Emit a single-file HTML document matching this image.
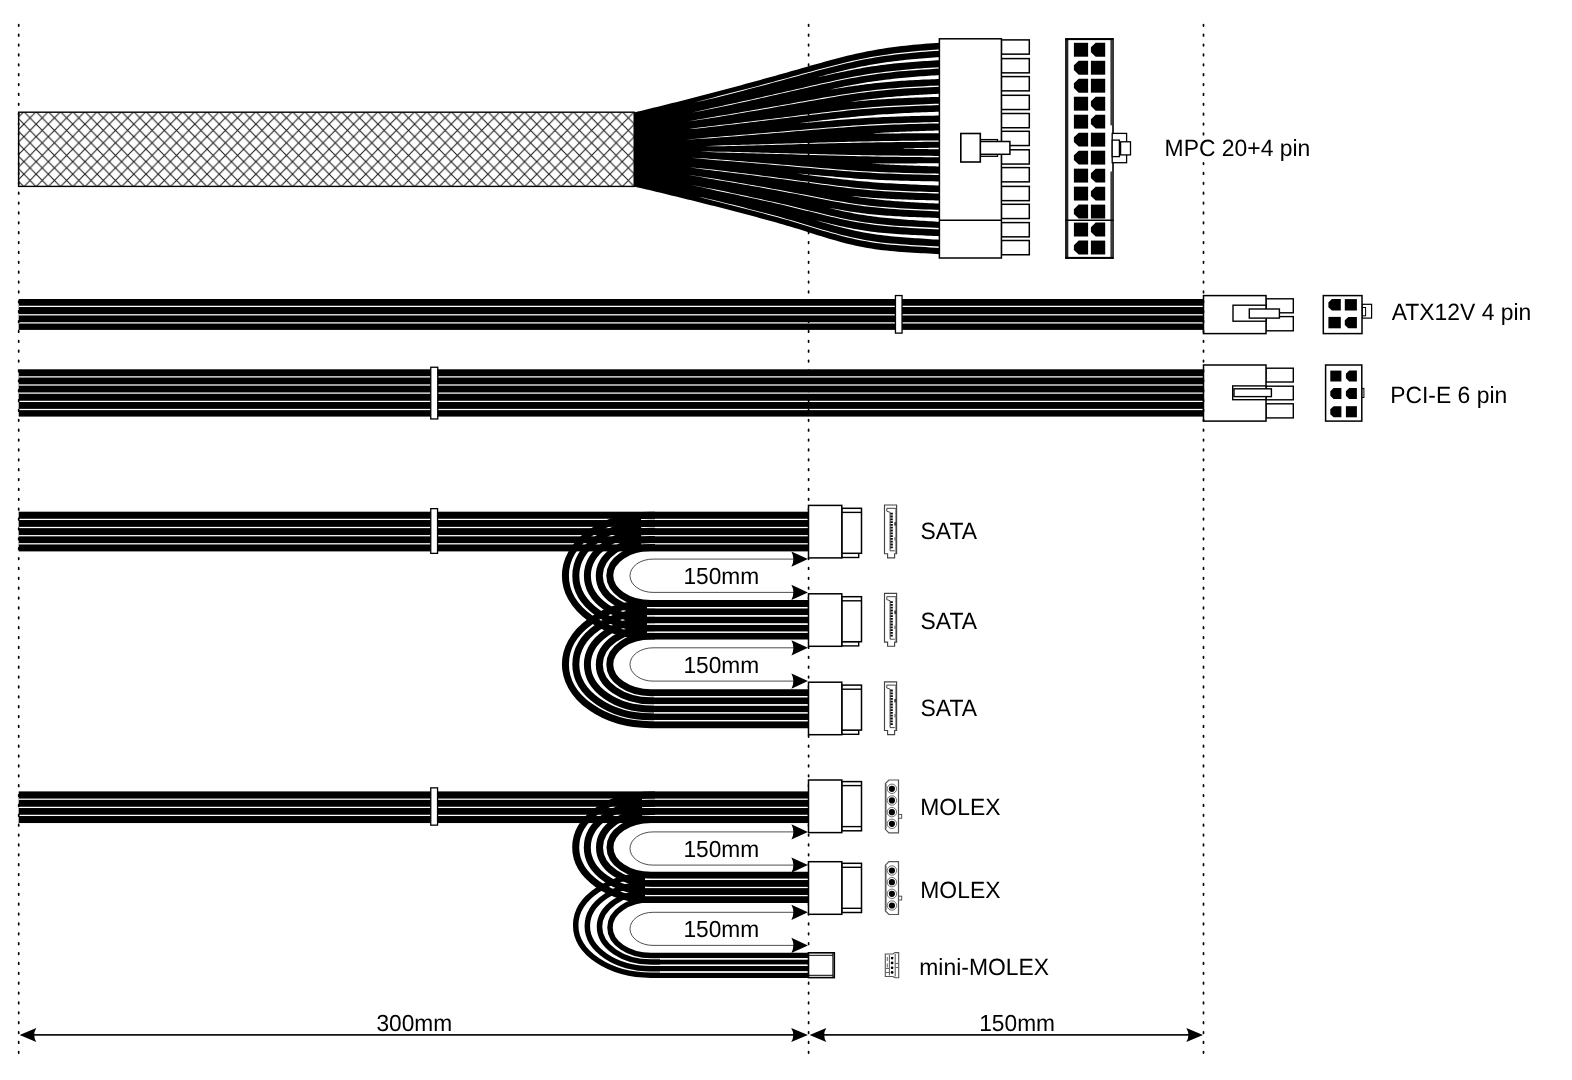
<!DOCTYPE html>
<html><head><meta charset="utf-8"><title>PSU cable diagram</title>
<style>html,body{margin:0;padding:0;background:#fff;}body{width:1572px;height:1080px;overflow:hidden;}svg{display:block;will-change:transform;}text{font-family:"Liberation Sans",sans-serif;fill:#000;text-rendering:geometricPrecision;}</style></head><body>
<svg width="1572" height="1080" viewBox="0 0 1572 1080">
<rect width="1572" height="1080" fill="#fff"/>
<g id="mpc-cable"><defs><pattern id="hatch" patternUnits="userSpaceOnUse" width="12.21" height="12.5" patternTransform="translate(23.9,111.65)"><path d="M0,0 L12.21,12.5 M12.21,0 L0,12.5" stroke="#1a1a1a" stroke-width="1.05" fill="none"/></pattern></defs><rect x="18.6" y="112.2" width="615.6" height="74.2" fill="#fff"/><rect x="18.6" y="112.2" width="615.6" height="74.2" fill="url(#hatch)" stroke="#000" stroke-width="1.4"/><path d="M634,112.5 L637.83,111.57 L641.65,110.65 L645.48,109.71 L649.3,108.78 L653.12,107.84 L656.95,106.9 L660.77,105.95 L664.6,105 L668.42,104.05 L672.25,103.09 L676.08,102.13 L679.9,101.17 L683.73,100.2 L687.55,99.23 L691.38,98.25 L695.2,97.27 L699.02,96.29 L702.85,95.3 L706.67,94.31 L710.5,93.31 L714.33,92.31 L718.15,91.3 L721.98,90.29 L725.8,89.27 L729.62,88.25 L733.45,87.23 L737.27,86.2 L741.1,85.16 L744.92,84.12 L748.75,83.08 L752.58,82.03 L756.4,80.98 L760.23,79.92 L764.05,78.86 L767.88,77.79 L771.7,76.72 L775.52,75.64 L779.35,74.56 L783.17,73.48 L787,72.4 L790.83,71.31 L794.65,70.22 L798.48,69.13 L802.3,68.04 L806.12,66.95 L809.95,65.87 L813.77,64.79 L817.6,63.71 L821.42,62.64 L825.25,61.58 L829.08,60.54 L832.9,59.5 L836.73,58.49 L840.55,57.5 L844.38,56.53 L848.2,55.58 L852.02,54.67 L855.85,53.79 L859.67,52.94 L863.5,52.13 L867.33,51.36 L871.15,50.63 L874.98,49.93 L878.8,49.27 L882.62,48.65 L886.45,48.07 L890.27,47.52 L894.1,47.01 L897.92,46.52 L901.75,46.06 L905.58,45.64 L909.4,45.23 L913.23,44.85 L917.05,44.49 L920.88,44.15 L924.7,43.83 L928.52,43.53 L932.35,43.24 L936.17,42.96 L940,42.7 L940,254.3 L936.17,254.06 L932.35,253.82 L928.52,253.59 L924.7,253.37 L920.88,253.15 L917.05,252.93 L913.23,252.71 L909.4,252.47 L905.58,252.23 L901.75,251.96 L897.92,251.67 L894.1,251.36 L890.27,251.01 L886.45,250.62 L882.62,250.19 L878.8,249.71 L874.98,249.18 L871.15,248.6 L867.33,247.96 L863.5,247.26 L859.67,246.51 L855.85,245.7 L852.02,244.83 L848.2,243.91 L844.38,242.94 L840.55,241.92 L836.73,240.87 L832.9,239.77 L829.08,238.65 L825.25,237.49 L821.42,236.32 L817.6,235.13 L813.77,233.93 L809.95,232.73 L806.12,231.52 L802.3,230.32 L798.48,229.12 L794.65,227.94 L790.83,226.77 L787,225.63 L783.17,224.5 L779.35,223.39 L775.52,222.31 L771.7,221.26 L767.88,220.22 L764.05,219.18 L760.23,218.15 L756.4,217.12 L752.58,216.1 L748.75,215.08 L744.92,214.06 L741.1,213.05 L737.27,212.05 L733.45,211.05 L729.62,210.05 L725.8,209.06 L721.98,208.07 L718.15,207.09 L714.33,206.11 L710.5,205.14 L706.67,204.17 L702.85,203.21 L699.02,202.25 L695.2,201.29 L691.38,200.34 L687.55,199.39 L683.73,198.45 L679.9,197.51 L676.08,196.57 L672.25,195.64 L668.42,194.71 L664.6,193.78 L660.77,192.86 L656.95,191.94 L653.12,191.03 L649.3,190.11 L645.48,189.21 L641.65,188.3 L637.83,187.4 L634,186.5Z" fill="#000"/><path d="M694,102.68 L698.92,101.37 L703.84,100.05 L708.76,98.73 L713.68,97.4 L718.6,96.11 L723.52,94.86 L728.44,93.6 L733.36,92.33 L738.28,91.06 L743.2,89.78 L748.12,88.49 L753.04,87.19 L757.96,85.88 L762.88,84.57 L767.8,83.25 L772.72,81.93 L777.64,80.59 L782.56,79.25 L787.48,77.91 L792.4,76.56 L797.32,75.21 L802.24,73.86 L807.16,72.51 L812.08,71.17 L817,69.83 L821.92,68.51 L826.84,67.2 L831.76,65.91 L836.68,64.65 L841.6,63.42 L846.52,62.23 L851.44,61.09 L856.36,59.99 L861.28,58.95 L866.2,57.97 L871.12,57.05 L876.04,56.19 L880.96,55.39 L885.88,54.64 L890.8,53.96 L895.72,53.32 L900.64,52.73 L905.56,52.19 L910.48,51.69 L915.4,51.22 L920.32,50.78 L925.24,50.38 L930.16,50 L935.08,49.64 L940,49.3 L940,50.7 L935.08,51.02 L930.16,51.35 L925.24,51.71 L920.32,52.1 L915.4,52.51 L910.48,52.96 L905.56,53.45 L900.64,53.97 L895.72,54.54 L890.8,55.16 L885.88,55.83 L880.96,56.55 L876.04,57.34 L871.12,58.18 L866.2,59.09 L861.28,60.05 L856.36,61.08 L851.44,62.16 L846.52,63.29 L841.6,64.47 L836.68,65.69 L831.76,66.93 L826.84,68.21 L821.92,69.51 L817,70.82 L812.08,72.15 L807.16,73.48 L802.24,74.82 L797.32,76.16 L792.4,77.5 L787.48,78.84 L782.56,80.18 L777.64,81.51 L772.72,82.83 L767.8,84.15 L762.88,85.47 L757.96,86.77 L753.04,88.07 L748.12,89.36 L743.2,90.65 L738.28,91.93 L733.36,93.2 L728.44,94.46 L723.52,95.72 L718.6,96.96 L713.68,98.16 L708.76,99.3 L703.84,100.43 L698.92,101.56 L694,102.68Z" fill="#fff"/><path d="M692,112.58 L696.96,111.46 L701.92,110.33 L706.88,109.19 L711.84,108.05 L716.8,106.96 L721.76,105.9 L726.72,104.84 L731.68,103.77 L736.64,102.69 L741.6,101.61 L746.56,100.51 L751.52,99.42 L756.48,98.31 L761.44,97.2 L766.4,96.09 L771.36,94.96 L776.32,93.83 L781.28,92.7 L786.24,91.56 L791.2,90.42 L796.16,89.28 L801.12,88.13 L806.08,86.99 L811.04,85.85 L816,84.71 L820.96,83.59 L825.92,82.48 L830.88,81.38 L835.84,80.31 L840.8,79.26 L845.76,78.24 L850.72,77.27 L855.68,76.33 L860.64,75.44 L865.6,74.6 L870.56,73.82 L875.52,73.08 L880.48,72.4 L885.44,71.76 L890.4,71.17 L895.36,70.63 L900.32,70.13 L905.28,69.67 L910.24,69.24 L915.2,68.84 L920.16,68.46 L925.12,68.12 L930.08,67.79 L935.04,67.49 L940,67.2 L940,68.6 L935.04,68.87 L930.08,69.15 L925.12,69.45 L920.16,69.78 L915.2,70.13 L910.24,70.51 L905.28,70.92 L900.32,71.37 L895.36,71.85 L890.4,72.38 L885.44,72.95 L880.48,73.56 L875.52,74.23 L870.56,74.95 L865.6,75.72 L860.64,76.55 L855.68,77.42 L850.72,78.34 L845.76,79.31 L840.8,80.31 L835.84,81.34 L830.88,82.4 L825.92,83.49 L820.96,84.59 L816,85.7 L811.04,86.83 L806.08,87.96 L801.12,89.09 L796.16,90.22 L791.2,91.36 L786.24,92.49 L781.28,93.62 L776.32,94.75 L771.36,95.87 L766.4,96.99 L761.44,98.1 L756.48,99.2 L751.52,100.3 L746.56,101.39 L741.6,102.48 L736.64,103.56 L731.68,104.63 L726.72,105.7 L721.76,106.76 L716.8,107.82 L711.84,108.82 L706.88,109.77 L701.92,110.71 L696.96,111.65 L692,112.58Z" fill="#fff"/><path d="M688,121.42 L693.04,120.52 L698.08,119.61 L703.12,118.69 L708.16,117.78 L713.2,116.91 L718.24,116.08 L723.28,115.25 L728.32,114.41 L733.36,113.56 L738.4,112.71 L743.44,111.85 L748.48,110.99 L753.52,110.12 L758.56,109.24 L763.6,108.37 L768.64,107.48 L773.68,106.59 L778.72,105.7 L783.76,104.8 L788.8,103.9 L793.84,103 L798.88,102.1 L803.92,101.19 L808.96,100.29 L814,99.39 L819.04,98.5 L824.08,97.62 L829.12,96.75 L834.16,95.89 L839.2,95.06 L844.24,94.25 L849.28,93.47 L854.32,92.72 L859.36,92 L864.4,91.33 L869.44,90.7 L874.48,90.11 L879.52,89.56 L884.56,89.05 L889.6,88.58 L894.64,88.14 L899.68,87.74 L904.72,87.37 L909.76,87.02 L914.8,86.71 L919.84,86.41 L924.88,86.13 L929.92,85.87 L934.96,85.63 L940,85.4 L940,86.8 L934.96,87.01 L929.92,87.23 L924.88,87.47 L919.84,87.72 L914.8,88 L909.76,88.3 L904.72,88.62 L899.68,88.98 L894.64,89.36 L889.6,89.78 L884.56,90.23 L879.52,90.73 L874.48,91.26 L869.44,91.83 L864.4,92.45 L859.36,93.11 L854.32,93.81 L849.28,94.54 L844.24,95.31 L839.2,96.11 L834.16,96.93 L829.12,97.77 L824.08,98.63 L819.04,99.5 L814,100.38 L808.96,101.27 L803.92,102.16 L798.88,103.05 L793.84,103.95 L788.8,104.84 L783.76,105.73 L778.72,106.62 L773.68,107.51 L768.64,108.39 L763.6,109.27 L758.56,110.14 L753.52,111.01 L748.48,111.87 L743.44,112.73 L738.4,113.58 L733.36,114.43 L728.32,115.27 L723.28,116.11 L718.24,116.94 L713.2,117.77 L708.16,118.56 L703.12,119.28 L698.08,120 L693.04,120.71 L688,121.42Z" fill="#fff"/><path d="M684,129.58 L689.12,128.91 L694.24,128.23 L699.36,127.56 L704.48,126.88 L709.6,126.26 L714.72,125.67 L719.84,125.08 L724.96,124.48 L730.08,123.88 L735.2,123.28 L740.32,122.67 L745.44,122.06 L750.56,121.44 L755.68,120.82 L760.8,120.2 L765.92,119.57 L771.04,118.94 L776.16,118.3 L781.28,117.67 L786.4,117.02 L791.52,116.38 L796.64,115.74 L801.76,115.09 L806.88,114.45 L812,113.81 L817.12,113.17 L822.24,112.54 L827.36,111.91 L832.48,111.3 L837.6,110.7 L842.72,110.11 L847.84,109.55 L852.96,109.01 L858.08,108.49 L863.2,108 L868.32,107.54 L873.44,107.12 L878.56,106.72 L883.68,106.35 L888.8,106 L893.92,105.69 L899.04,105.4 L904.16,105.13 L909.28,104.88 L914.4,104.65 L919.52,104.43 L924.64,104.23 L929.76,104.04 L934.88,103.87 L940,103.7 L940,105.1 L934.88,105.24 L929.76,105.4 L924.64,105.57 L919.52,105.75 L914.4,105.94 L909.28,106.15 L904.16,106.38 L899.04,106.63 L893.92,106.91 L888.8,107.21 L883.68,107.53 L878.56,107.88 L873.44,108.27 L868.32,108.68 L863.2,109.12 L858.08,109.6 L852.96,110.1 L847.84,110.62 L842.72,111.18 L837.6,111.75 L832.48,112.33 L827.36,112.94 L822.24,113.55 L817.12,114.17 L812,114.8 L806.88,115.43 L801.76,116.06 L796.64,116.69 L791.52,117.33 L786.4,117.96 L781.28,118.59 L776.16,119.22 L771.04,119.85 L765.92,120.48 L760.8,121.1 L755.68,121.71 L750.56,122.33 L745.44,122.94 L740.32,123.55 L735.2,124.15 L730.08,124.75 L724.96,125.35 L719.84,125.94 L714.72,126.53 L709.6,127.12 L704.48,127.67 L699.36,128.15 L694.24,128.63 L689.12,129.11 L684,129.58Z" fill="#fff"/><path d="M686,139.66 L691.08,139.18 L696.16,138.69 L701.24,138.2 L706.32,137.71 L711.4,137.28 L716.48,136.88 L721.56,136.48 L726.64,136.08 L731.72,135.67 L736.8,135.26 L741.88,134.85 L746.96,134.44 L752.04,134.02 L757.12,133.6 L762.2,133.18 L767.28,132.75 L772.36,132.33 L777.44,131.9 L782.52,131.46 L787.6,131.03 L792.68,130.59 L797.76,130.16 L802.84,129.72 L807.92,129.29 L813,128.85 L818.08,128.42 L823.16,127.99 L828.24,127.57 L833.32,127.16 L838.4,126.75 L843.48,126.36 L848.56,125.98 L853.64,125.61 L858.72,125.26 L863.8,124.93 L868.88,124.62 L873.96,124.33 L879.04,124.06 L884.12,123.81 L889.2,123.58 L894.28,123.37 L899.36,123.17 L904.44,122.98 L909.52,122.81 L914.6,122.65 L919.68,122.51 L924.76,122.37 L929.84,122.24 L934.92,122.12 L940,122 L940,123.4 L934.92,123.49 L929.84,123.59 L924.76,123.7 L919.68,123.82 L914.6,123.95 L909.52,124.09 L904.44,124.24 L899.36,124.41 L894.28,124.59 L889.2,124.78 L884.12,125 L879.04,125.23 L873.96,125.48 L868.88,125.76 L863.8,126.05 L858.72,126.37 L853.64,126.7 L848.56,127.05 L843.48,127.42 L838.4,127.8 L833.32,128.19 L828.24,128.59 L823.16,129 L818.08,129.42 L813,129.84 L807.92,130.26 L802.84,130.69 L797.76,131.12 L792.68,131.54 L787.6,131.97 L782.52,132.39 L777.44,132.82 L772.36,133.24 L767.28,133.66 L762.2,134.08 L757.12,134.49 L752.04,134.91 L746.96,135.32 L741.88,135.73 L736.8,136.14 L731.72,136.54 L726.64,136.94 L721.56,137.34 L716.48,137.74 L711.4,138.14 L706.32,138.5 L701.24,138.79 L696.16,139.09 L691.08,139.38 L686,139.66Z" fill="#fff"/><path d="M700,146.37 L704.8,146.16 L709.6,145.94 L714.4,145.72 L719.2,145.5 L724,145.32 L728.8,145.2 L733.6,145.07 L738.4,144.94 L743.2,144.81 L748,144.68 L752.8,144.54 L757.6,144.41 L762.4,144.28 L767.2,144.14 L772,144 L776.8,143.87 L781.6,143.73 L786.4,143.59 L791.2,143.45 L796,143.31 L800.8,143.17 L805.6,143.03 L810.4,142.89 L815.2,142.76 L820,142.62 L824.8,142.48 L829.6,142.34 L834.4,142.21 L839.2,142.08 L844,141.95 L848.8,141.83 L853.6,141.71 L858.4,141.6 L863.2,141.49 L868,141.38 L872.8,141.29 L877.6,141.19 L882.4,141.11 L887.2,141.03 L892,140.95 L896.8,140.88 L901.6,140.82 L906.4,140.75 L911.2,140.69 L916,140.64 L920.8,140.59 L925.6,140.54 L930.4,140.49 L935.2,140.44 L940,140.4 L940,141.8 L935.2,141.82 L930.4,141.85 L925.6,141.87 L920.8,141.9 L916,141.93 L911.2,141.97 L906.4,142.01 L901.6,142.05 L896.8,142.1 L892,142.15 L887.2,142.21 L882.4,142.28 L877.6,142.35 L872.8,142.42 L868,142.5 L863.2,142.59 L858.4,142.68 L853.6,142.78 L848.8,142.89 L844,143 L839.2,143.11 L834.4,143.23 L829.6,143.35 L824.8,143.48 L820,143.6 L815.2,143.73 L810.4,143.86 L805.6,143.99 L800.8,144.12 L796,144.25 L791.2,144.38 L786.4,144.51 L781.6,144.64 L776.8,144.77 L772,144.9 L767.2,145.03 L762.4,145.16 L757.6,145.29 L752.8,145.42 L748,145.55 L743.2,145.68 L738.4,145.8 L733.6,145.93 L728.8,146.05 L724,146.18 L719.2,146.25 L714.4,146.28 L709.6,146.31 L704.8,146.34 L700,146.37Z" fill="#fff"/><path d="M700,151.56 L704.8,151.58 L709.6,151.61 L714.4,151.63 L719.2,151.66 L724,151.72 L728.8,151.84 L733.6,151.96 L738.4,152.08 L743.2,152.2 L748,152.33 L752.8,152.45 L757.6,152.57 L762.4,152.69 L767.2,152.82 L772,152.94 L776.8,153.07 L781.6,153.19 L786.4,153.32 L791.2,153.44 L796,153.57 L800.8,153.69 L805.6,153.82 L810.4,153.95 L815.2,154.07 L820,154.19 L824.8,154.32 L829.6,154.44 L834.4,154.55 L839.2,154.67 L844,154.78 L848.8,154.88 L853.6,154.98 L858.4,155.08 L863.2,155.17 L868,155.25 L872.8,155.33 L877.6,155.4 L882.4,155.46 L887.2,155.52 L892,155.58 L896.8,155.62 L901.6,155.67 L906.4,155.71 L911.2,155.74 L916,155.78 L920.8,155.81 L925.6,155.83 L930.4,155.86 L935.2,155.88 L940,155.9 L940,157.3 L935.2,157.26 L930.4,157.21 L925.6,157.17 L920.8,157.12 L916,157.07 L911.2,157.02 L906.4,156.97 L901.6,156.91 L896.8,156.84 L892,156.78 L887.2,156.71 L882.4,156.63 L877.6,156.55 L872.8,156.46 L868,156.37 L863.2,156.27 L858.4,156.17 L853.6,156.06 L848.8,155.94 L844,155.82 L839.2,155.7 L834.4,155.58 L829.6,155.45 L824.8,155.31 L820,155.18 L815.2,155.05 L810.4,154.91 L805.6,154.78 L800.8,154.64 L796,154.51 L791.2,154.37 L786.4,154.24 L781.6,154.1 L776.8,153.97 L772,153.84 L767.2,153.71 L762.4,153.58 L757.6,153.45 L752.8,153.33 L748,153.2 L743.2,153.07 L738.4,152.95 L733.6,152.82 L728.8,152.7 L724,152.58 L719.2,152.4 L714.4,152.19 L709.6,151.98 L704.8,151.77 L700,151.56Z" fill="#fff"/><path d="M686,157.36 L691.08,157.65 L696.16,157.94 L701.24,158.23 L706.32,158.53 L711.4,158.89 L716.48,159.29 L721.56,159.69 L726.64,160.09 L731.72,160.49 L736.8,160.9 L741.88,161.31 L746.96,161.72 L752.04,162.14 L757.12,162.55 L762.2,162.97 L767.28,163.39 L772.36,163.81 L777.44,164.24 L782.52,164.67 L787.6,165.1 L792.68,165.54 L797.76,165.98 L802.84,166.43 L807.92,166.87 L813,167.31 L818.08,167.75 L823.16,168.18 L828.24,168.61 L833.32,169.02 L838.4,169.43 L843.48,169.82 L848.56,170.19 L853.64,170.55 L858.72,170.88 L863.8,171.2 L868.88,171.49 L873.96,171.75 L879.04,172 L884.12,172.22 L889.2,172.42 L894.28,172.6 L899.36,172.77 L904.44,172.92 L909.52,173.06 L914.6,173.18 L919.68,173.3 L924.76,173.41 L929.84,173.51 L934.92,173.61 L940,173.7 L940,175.1 L934.92,174.99 L929.84,174.87 L924.76,174.74 L919.68,174.61 L914.6,174.48 L909.52,174.33 L904.44,174.18 L899.36,174.01 L894.28,173.82 L889.2,173.62 L884.12,173.4 L879.04,173.17 L873.96,172.9 L868.88,172.62 L863.8,172.32 L858.72,171.99 L853.64,171.64 L848.56,171.27 L843.48,170.88 L838.4,170.48 L833.32,170.06 L828.24,169.63 L823.16,169.19 L818.08,168.75 L813,168.3 L807.92,167.84 L802.84,167.39 L797.76,166.94 L792.68,166.49 L787.6,166.04 L782.52,165.6 L777.44,165.16 L772.36,164.73 L767.28,164.3 L762.2,163.87 L757.12,163.44 L752.04,163.02 L746.96,162.6 L741.88,162.19 L736.8,161.77 L731.72,161.36 L726.64,160.95 L721.56,160.55 L716.48,160.14 L711.4,159.74 L706.32,159.31 L701.24,158.82 L696.16,158.33 L691.08,157.84 L686,157.36Z" fill="#fff"/><path d="M684,166.65 L689.12,167.15 L694.24,167.65 L699.36,168.15 L704.48,168.66 L709.6,169.24 L714.72,169.85 L719.84,170.46 L724.96,171.08 L730.08,171.7 L735.2,172.33 L740.32,172.96 L745.44,173.59 L750.56,174.23 L755.68,174.87 L760.8,175.51 L765.92,176.16 L771.04,176.81 L776.16,177.47 L781.28,178.14 L786.4,178.81 L791.52,179.5 L796.64,180.19 L801.76,180.89 L806.88,181.58 L812,182.28 L817.12,182.98 L822.24,183.66 L827.36,184.34 L832.48,185 L837.6,185.64 L842.72,186.26 L847.84,186.85 L852.96,187.41 L858.08,187.93 L863.2,188.42 L868.32,188.87 L873.44,189.28 L878.56,189.65 L883.68,189.98 L888.8,190.28 L893.92,190.56 L899.04,190.8 L904.16,191.02 L909.28,191.22 L914.4,191.41 L919.52,191.58 L924.64,191.75 L929.76,191.9 L934.88,192.05 L940,192.2 L940,193.6 L934.88,193.43 L929.76,193.26 L924.64,193.08 L919.52,192.9 L914.4,192.71 L909.28,192.5 L904.16,192.28 L899.04,192.04 L893.92,191.78 L888.8,191.49 L883.68,191.17 L878.56,190.81 L873.44,190.43 L868.32,190 L863.2,189.54 L858.08,189.04 L852.96,188.5 L847.84,187.92 L842.72,187.32 L837.6,186.69 L832.48,186.04 L827.36,185.36 L822.24,184.67 L817.12,183.98 L812,183.27 L806.88,182.56 L801.76,181.85 L796.64,181.15 L791.52,180.44 L786.4,179.75 L781.28,179.06 L776.16,178.39 L771.04,177.73 L765.92,177.07 L760.8,176.41 L755.68,175.76 L750.56,175.12 L745.44,174.47 L740.32,173.83 L735.2,173.2 L730.08,172.57 L724.96,171.94 L719.84,171.32 L714.72,170.71 L709.6,170.09 L704.48,169.45 L699.36,168.75 L694.24,168.04 L689.12,167.35 L684,166.65Z" fill="#fff"/><path d="M688,174.73 L693.04,175.46 L698.08,176.19 L703.12,176.92 L708.16,177.65 L713.2,178.46 L718.24,179.3 L723.28,180.15 L728.32,181 L733.36,181.86 L738.4,182.73 L743.44,183.59 L748.48,184.47 L753.52,185.35 L758.56,186.23 L763.6,187.12 L768.64,188.01 L773.68,188.91 L778.72,189.83 L783.76,190.76 L788.8,191.71 L793.84,192.67 L798.88,193.64 L803.92,194.62 L808.96,195.6 L814,196.59 L819.04,197.56 L824.08,198.52 L829.12,199.47 L834.16,200.39 L839.2,201.27 L844.24,202.12 L849.28,202.93 L854.32,203.69 L859.36,204.4 L864.4,205.05 L869.44,205.65 L874.48,206.19 L879.52,206.68 L884.56,207.12 L889.6,207.51 L894.64,207.86 L899.68,208.17 L904.72,208.45 L909.76,208.71 L914.8,208.95 L919.84,209.17 L924.88,209.38 L929.92,209.59 L934.96,209.8 L940,210 L940,211.4 L934.96,211.17 L929.92,210.95 L924.88,210.72 L919.84,210.49 L914.8,210.24 L909.76,209.98 L904.72,209.71 L899.68,209.41 L894.64,209.08 L889.6,208.71 L884.56,208.3 L879.52,207.85 L874.48,207.34 L869.44,206.79 L864.4,206.17 L859.36,205.5 L854.32,204.78 L849.28,204.01 L844.24,203.19 L839.2,202.32 L834.16,201.42 L829.12,200.49 L824.08,199.53 L819.04,198.56 L814,197.57 L808.96,196.58 L803.92,195.59 L798.88,194.6 L793.84,193.61 L788.8,192.64 L783.76,191.69 L778.72,190.75 L773.68,189.82 L768.64,188.92 L763.6,188.02 L758.56,187.12 L753.52,186.23 L748.48,185.35 L743.44,184.47 L738.4,183.6 L733.36,182.73 L728.32,181.87 L723.28,181.01 L718.24,180.16 L713.2,179.31 L708.16,178.44 L703.12,177.5 L698.08,176.58 L693.04,175.65 L688,174.73Z" fill="#fff"/><path d="M692,185.15 L696.96,186.06 L701.92,186.97 L706.88,187.89 L711.84,188.81 L716.8,189.8 L721.76,190.83 L726.72,191.86 L731.68,192.91 L736.64,193.96 L741.6,195.01 L746.56,196.07 L751.52,197.14 L756.48,198.21 L761.44,199.29 L766.4,200.38 L771.36,201.47 L776.32,202.57 L781.28,203.7 L786.24,204.86 L791.2,206.04 L796.16,207.24 L801.12,208.45 L806.08,209.67 L811.04,210.89 L816,212.11 L820.96,213.32 L825.92,214.51 L830.88,215.67 L835.84,216.8 L840.8,217.89 L845.76,218.92 L850.72,219.89 L855.68,220.81 L860.64,221.65 L865.6,222.42 L870.56,223.12 L875.52,223.75 L880.48,224.31 L885.44,224.81 L890.4,225.26 L895.36,225.65 L900.32,226 L905.28,226.31 L910.24,226.6 L915.2,226.87 L920.16,227.12 L925.12,227.37 L930.08,227.61 L935.04,227.85 L940,228.1 L940,229.5 L935.04,229.23 L930.08,228.97 L925.12,228.7 L920.16,228.44 L915.2,228.16 L910.24,227.88 L905.28,227.57 L900.32,227.24 L895.36,226.87 L890.4,226.46 L885.44,226 L880.48,225.48 L875.52,224.9 L870.56,224.26 L865.6,223.54 L860.64,222.75 L855.68,221.9 L850.72,220.97 L845.76,219.98 L840.8,218.93 L835.84,217.84 L830.88,216.7 L825.92,215.52 L820.96,214.32 L816,213.1 L811.04,211.87 L806.08,210.64 L801.12,209.4 L796.16,208.18 L791.2,206.98 L786.24,205.79 L781.28,204.62 L776.32,203.48 L771.36,202.37 L766.4,201.28 L761.44,200.18 L756.48,199.1 L751.52,198.02 L746.56,196.95 L741.6,195.88 L736.64,194.82 L731.68,193.77 L726.72,192.73 L721.76,191.69 L716.8,190.65 L711.84,189.58 L706.88,188.47 L701.92,187.36 L696.96,186.25 L692,185.15Z" fill="#fff"/><path d="M694,195.56 L698.92,196.66 L703.84,197.77 L708.76,198.88 L713.68,199.99 L718.6,201.17 L723.52,202.4 L728.44,203.63 L733.36,204.87 L738.28,206.12 L743.2,207.37 L748.12,208.63 L753.04,209.9 L757.96,211.18 L762.88,212.46 L767.8,213.75 L772.72,215.05 L777.64,216.37 L782.56,217.74 L787.48,219.13 L792.4,220.56 L797.32,222.01 L802.24,223.48 L807.16,224.96 L812.08,226.44 L817,227.92 L821.92,229.39 L826.84,230.82 L831.76,232.23 L836.68,233.58 L841.6,234.88 L846.52,236.11 L851.44,237.26 L856.36,238.34 L861.28,239.33 L866.2,240.22 L871.12,241.03 L876.04,241.75 L880.96,242.39 L885.88,242.95 L890.8,243.44 L895.72,243.87 L900.64,244.25 L905.56,244.6 L910.48,244.91 L915.4,245.2 L920.32,245.48 L925.24,245.75 L930.16,246.02 L935.08,246.31 L940,246.6 L940,248 L935.08,247.68 L930.16,247.38 L925.24,247.09 L920.32,246.79 L915.4,246.49 L910.48,246.18 L905.56,245.85 L900.64,245.49 L895.72,245.09 L890.8,244.64 L885.88,244.13 L880.96,243.56 L876.04,242.9 L871.12,242.17 L866.2,241.34 L861.28,240.43 L856.36,239.43 L851.44,238.34 L846.52,237.17 L841.6,235.92 L836.68,234.61 L831.76,233.25 L826.84,231.83 L821.92,230.39 L817,228.91 L812.08,227.42 L807.16,225.93 L802.24,224.43 L797.32,222.96 L792.4,221.5 L787.48,220.06 L782.56,218.66 L777.64,217.29 L772.72,215.95 L767.8,214.65 L762.88,213.35 L757.96,212.07 L753.04,210.78 L748.12,209.51 L743.2,208.24 L738.28,206.98 L733.36,205.73 L728.44,204.49 L723.52,203.25 L718.6,202.02 L713.68,200.76 L708.76,199.45 L703.84,198.15 L698.92,196.85 L694,195.56Z" fill="#fff"/><path d="M817,77.41 L820.08,76.53 L823.15,75.69 L826.23,74.87 L829.3,74.07 L832.38,73.28 L835.45,72.5 L838.52,71.74 L841.6,70.99 L844.67,70.25 L847.75,69.54 L850.83,68.84 L853.9,68.16 L856.98,67.5 L860.05,66.86 L863.12,66.24 L866.2,65.65 L869.27,65.08 L872.35,64.53 L875.42,64 L878.5,63.5 L881.58,63.02 L884.65,62.56 L887.73,62.12 L890.8,61.7 L893.88,61.3 L896.95,60.92 L900.02,60.55 L903.1,60.2 L906.17,59.87 L909.25,59.55 L912.33,59.25 L915.4,58.96 L918.48,58.68 L921.55,58.41 L924.62,58.15 L927.7,57.91 L930.77,57.67 L933.85,57.44 L936.92,57.21 L940,57 L940,60.2 L936.92,60.36 L933.85,60.52 L930.77,60.7 L927.7,60.88 L924.62,61.07 L921.55,61.27 L918.48,61.48 L915.4,61.7 L912.33,61.93 L909.25,62.17 L906.17,62.43 L903.1,62.7 L900.02,62.98 L896.95,63.28 L893.88,63.6 L890.8,63.94 L887.73,64.29 L884.65,64.66 L881.58,65.06 L878.5,65.47 L875.42,65.9 L872.35,66.36 L869.27,66.84 L866.2,67.33 L863.12,67.85 L860.05,68.39 L856.98,68.96 L853.9,69.54 L850.83,70.13 L847.75,70.75 L844.67,71.38 L841.6,72.02 L838.52,72.68 L835.45,73.35 L832.38,74.02 L829.3,74.71 L826.23,75.39 L823.15,76.08 L820.08,76.77 L817,77.41Z" fill="#fff"/><path d="M830,89.6 L832.75,88.92 L835.5,88.3 L838.25,87.71 L841,87.13 L843.75,86.56 L846.5,86.01 L849.25,85.47 L852,84.95 L854.75,84.44 L857.5,83.94 L860.25,83.46 L863,82.99 L865.75,82.54 L868.5,82.1 L871.25,81.68 L874,81.28 L876.75,80.89 L879.5,80.51 L882.25,80.15 L885,79.8 L887.75,79.47 L890.5,79.15 L893.25,78.84 L896,78.54 L898.75,78.26 L901.5,77.99 L904.25,77.73 L907,77.47 L909.75,77.23 L912.5,77 L915.25,76.77 L918,76.55 L920.75,76.34 L923.5,76.14 L926.25,75.95 L929,75.76 L931.75,75.57 L934.5,75.39 L937.25,75.22 L940,75.05 L940,78.95 L937.25,79.05 L934.5,79.15 L931.75,79.26 L929,79.38 L926.25,79.5 L923.5,79.62 L920.75,79.75 L918,79.89 L915.25,80.03 L912.5,80.19 L909.75,80.35 L907,80.51 L904.25,80.69 L901.5,80.87 L898.75,81.07 L896,81.27 L893.25,81.49 L890.5,81.71 L887.75,81.95 L885,82.2 L882.25,82.47 L879.5,82.74 L876.75,83.03 L874,83.33 L871.25,83.65 L868.5,83.98 L865.75,84.32 L863,84.67 L860.25,85.04 L857.5,85.42 L854.75,85.81 L852,86.21 L849.25,86.62 L846.5,87.04 L843.75,87.47 L841,87.91 L838.25,88.34 L835.5,88.78 L832.75,89.21 L830,89.6Z" fill="#fff"/><path d="M851,101.79 L853.23,101.39 L855.45,101.05 L857.67,100.72 L859.9,100.4 L862.12,100.09 L864.35,99.8 L866.58,99.51 L868.8,99.23 L871.02,98.96 L873.25,98.7 L875.48,98.45 L877.7,98.2 L879.92,97.97 L882.15,97.74 L884.38,97.52 L886.6,97.3 L888.83,97.09 L891.05,96.89 L893.27,96.7 L895.5,96.51 L897.73,96.32 L899.95,96.15 L902.17,95.98 L904.4,95.81 L906.62,95.65 L908.85,95.49 L911.08,95.34 L913.3,95.19 L915.52,95.05 L917.75,94.91 L919.98,94.78 L922.2,94.64 L924.42,94.52 L926.65,94.39 L928.88,94.27 L931.1,94.15 L933.33,94.03 L935.55,93.92 L937.77,93.81 L940,93.7 L940,96.9 L937.77,96.95 L935.55,97.01 L933.33,97.06 L931.1,97.12 L928.88,97.18 L926.65,97.25 L924.42,97.31 L922.2,97.38 L919.98,97.45 L917.75,97.53 L915.52,97.61 L913.3,97.69 L911.08,97.77 L908.85,97.86 L906.62,97.95 L904.4,98.05 L902.17,98.15 L899.95,98.25 L897.73,98.36 L895.5,98.48 L893.27,98.6 L891.05,98.72 L888.83,98.85 L886.6,98.99 L884.38,99.13 L882.15,99.27 L879.92,99.42 L877.7,99.58 L875.48,99.75 L873.25,99.91 L871.02,100.09 L868.8,100.27 L866.58,100.46 L864.35,100.65 L862.12,100.84 L859.9,101.04 L857.67,101.24 L855.45,101.44 L853.23,101.64 L851,101.79Z" fill="#fff"/><path d="M799,123.24 L802.52,122.72 L806.05,122.26 L809.58,121.82 L813.1,121.38 L816.62,120.95 L820.15,120.53 L823.67,120.11 L827.2,119.7 L830.73,119.29 L834.25,118.89 L837.77,118.5 L841.3,118.12 L844.83,117.74 L848.35,117.38 L851.88,117.02 L855.4,116.68 L858.92,116.35 L862.45,116.03 L865.98,115.72 L869.5,115.42 L873.02,115.14 L876.55,114.87 L880.08,114.61 L883.6,114.36 L887.12,114.13 L890.65,113.91 L894.17,113.69 L897.7,113.49 L901.23,113.3 L904.75,113.12 L908.27,112.94 L911.8,112.77 L915.33,112.61 L918.85,112.46 L922.38,112.31 L925.9,112.17 L929.42,112.03 L932.95,111.9 L936.48,111.77 L940,111.65 L940,115.55 L936.48,115.6 L932.95,115.66 L929.42,115.72 L925.9,115.79 L922.38,115.86 L918.85,115.94 L915.33,116.02 L911.8,116.11 L908.27,116.2 L904.75,116.3 L901.23,116.41 L897.7,116.53 L894.17,116.66 L890.65,116.79 L887.12,116.94 L883.6,117.09 L880.08,117.26 L876.55,117.43 L873.02,117.62 L869.5,117.82 L865.98,118.03 L862.45,118.26 L858.92,118.49 L855.4,118.73 L851.88,118.99 L848.35,119.25 L844.83,119.52 L841.3,119.8 L837.77,120.08 L834.25,120.37 L830.73,120.66 L827.2,120.96 L823.67,121.26 L820.15,121.56 L816.62,121.86 L813.1,122.16 L809.58,122.45 L806.05,122.74 L802.52,123.02 L799,123.24Z" fill="#fff"/><path d="M873,133.41 L874.67,133.24 L876.35,133.11 L878.02,133 L879.7,132.89 L881.38,132.79 L883.05,132.69 L884.73,132.59 L886.4,132.5 L888.08,132.41 L889.75,132.33 L891.42,132.24 L893.1,132.16 L894.77,132.08 L896.45,132 L898.12,131.93 L899.8,131.85 L901.48,131.78 L903.15,131.71 L904.83,131.64 L906.5,131.57 L908.17,131.51 L909.85,131.44 L911.52,131.38 L913.2,131.31 L914.88,131.25 L916.55,131.19 L918.23,131.13 L919.9,131.08 L921.58,131.02 L923.25,130.96 L924.92,130.91 L926.6,130.85 L928.27,130.8 L929.95,130.75 L931.62,130.7 L933.3,130.65 L934.98,130.6 L936.65,130.55 L938.33,130.5 L940,130.45 L940,133.35 L938.33,133.35 L936.65,133.34 L934.98,133.34 L933.3,133.34 L931.62,133.34 L929.95,133.34 L928.27,133.34 L926.6,133.34 L924.92,133.33 L923.25,133.33 L921.58,133.34 L919.9,133.34 L918.23,133.34 L916.55,133.34 L914.88,133.34 L913.2,133.34 L911.52,133.35 L909.85,133.35 L908.17,133.35 L906.5,133.36 L904.83,133.36 L903.15,133.37 L901.48,133.37 L899.8,133.38 L898.12,133.39 L896.45,133.39 L894.77,133.4 L893.1,133.41 L891.42,133.42 L889.75,133.42 L888.08,133.43 L886.4,133.44 L884.73,133.45 L883.05,133.46 L881.38,133.46 L879.7,133.47 L878.02,133.47 L876.35,133.47 L874.67,133.46 L873,133.41Z" fill="#fff"/><path d="M901,148.52 L901.98,148.46 L902.95,148.42 L903.92,148.39 L904.9,148.36 L905.88,148.33 L906.85,148.31 L907.83,148.28 L908.8,148.26 L909.77,148.24 L910.75,148.21 L911.73,148.19 L912.7,148.17 L913.67,148.15 L914.65,148.13 L915.62,148.11 L916.6,148.09 L917.58,148.07 L918.55,148.05 L919.52,148.04 L920.5,148.02 L921.48,148 L922.45,147.98 L923.42,147.97 L924.4,147.95 L925.38,147.93 L926.35,147.92 L927.33,147.9 L928.3,147.88 L929.27,147.87 L930.25,147.85 L931.23,147.84 L932.2,147.82 L933.17,147.8 L934.15,147.79 L935.12,147.77 L936.1,147.76 L937.08,147.74 L938.05,147.73 L939.02,147.71 L940,147.7 L940,149.3 L939.02,149.29 L938.05,149.27 L937.08,149.26 L936.1,149.25 L935.12,149.23 L934.15,149.22 L933.17,149.2 L932.2,149.19 L931.23,149.17 L930.25,149.16 L929.27,149.14 L928.3,149.13 L927.33,149.11 L926.35,149.1 L925.38,149.08 L924.4,149.07 L923.42,149.05 L922.45,149.04 L921.48,149.02 L920.5,149 L919.52,148.99 L918.55,148.97 L917.58,148.95 L916.6,148.93 L915.62,148.92 L914.65,148.9 L913.67,148.88 L912.7,148.86 L911.73,148.84 L910.75,148.82 L909.77,148.8 L908.8,148.78 L907.83,148.76 L906.85,148.73 L905.88,148.71 L904.9,148.68 L903.92,148.65 L902.95,148.62 L901.98,148.58 L901,148.52Z" fill="#fff"/><path d="M872,163.51 L873.7,163.44 L875.4,163.42 L877.1,163.41 L878.8,163.4 L880.5,163.4 L882.2,163.4 L883.9,163.4 L885.6,163.4 L887.3,163.4 L889,163.4 L890.7,163.4 L892.4,163.4 L894.1,163.4 L895.8,163.4 L897.5,163.4 L899.2,163.4 L900.9,163.4 L902.6,163.4 L904.3,163.4 L906,163.4 L907.7,163.4 L909.4,163.39 L911.1,163.39 L912.8,163.39 L914.5,163.38 L916.2,163.38 L917.9,163.37 L919.6,163.37 L921.3,163.36 L923,163.36 L924.7,163.35 L926.4,163.35 L928.1,163.34 L929.8,163.34 L931.5,163.33 L933.2,163.33 L934.9,163.32 L936.6,163.31 L938.3,163.31 L940,163.3 L940,166.5 L938.3,166.45 L936.6,166.4 L934.9,166.35 L933.2,166.3 L931.5,166.25 L929.8,166.19 L928.1,166.14 L926.4,166.09 L924.7,166.03 L923,165.98 L921.3,165.92 L919.6,165.86 L917.9,165.8 L916.2,165.75 L914.5,165.69 L912.8,165.62 L911.1,165.56 L909.4,165.5 L907.7,165.43 L906,165.37 L904.3,165.3 L902.6,165.23 L900.9,165.16 L899.2,165.09 L897.5,165.01 L895.8,164.94 L894.1,164.86 L892.4,164.78 L890.7,164.7 L889,164.61 L887.3,164.53 L885.6,164.44 L883.9,164.34 L882.2,164.25 L880.5,164.15 L878.8,164.04 L877.1,163.93 L875.4,163.81 L873.7,163.68 L872,163.51Z" fill="#fff"/><path d="M797,173.44 L800.58,173.69 L804.15,173.99 L807.73,174.31 L811.3,174.63 L814.88,174.96 L818.45,175.29 L822.02,175.63 L825.6,175.96 L829.17,176.28 L832.75,176.61 L836.33,176.93 L839.9,177.24 L843.48,177.54 L847.05,177.83 L850.62,178.11 L854.2,178.38 L857.77,178.64 L861.35,178.88 L864.92,179.11 L868.5,179.33 L872.08,179.53 L875.65,179.71 L879.23,179.89 L882.8,180.05 L886.38,180.2 L889.95,180.33 L893.52,180.46 L897.1,180.57 L900.67,180.67 L904.25,180.77 L907.83,180.86 L911.4,180.94 L914.98,181.02 L918.55,181.09 L922.12,181.16 L925.7,181.22 L929.27,181.28 L932.85,181.34 L936.42,181.39 L940,181.45 L940,185.55 L936.42,185.42 L932.85,185.29 L929.27,185.16 L925.7,185.03 L922.12,184.89 L918.55,184.75 L914.98,184.6 L911.4,184.45 L907.83,184.29 L904.25,184.12 L900.67,183.95 L897.1,183.76 L893.52,183.57 L889.95,183.36 L886.38,183.15 L882.8,182.92 L879.23,182.67 L875.65,182.41 L872.08,182.14 L868.5,181.85 L864.92,181.55 L861.35,181.23 L857.77,180.89 L854.2,180.54 L850.62,180.17 L847.05,179.8 L843.48,179.4 L839.9,179 L836.33,178.59 L832.75,178.16 L829.17,177.73 L825.6,177.29 L822.02,176.84 L818.45,176.38 L814.88,175.92 L811.3,175.45 L807.73,174.98 L804.15,174.49 L800.58,174 L797,173.44Z" fill="#fff"/><path d="M851,195.97 L853.23,196.14 L855.45,196.35 L857.67,196.56 L859.9,196.77 L862.12,196.97 L864.35,197.17 L866.58,197.36 L868.8,197.54 L871.02,197.72 L873.25,197.89 L875.48,198.05 L877.7,198.2 L879.92,198.35 L882.15,198.49 L884.38,198.62 L886.6,198.74 L888.83,198.86 L891.05,198.97 L893.27,199.08 L895.5,199.18 L897.73,199.27 L899.95,199.36 L902.17,199.44 L904.4,199.52 L906.62,199.6 L908.85,199.67 L911.08,199.74 L913.3,199.81 L915.52,199.88 L917.75,199.94 L919.98,200 L922.2,200.06 L924.42,200.12 L926.65,200.17 L928.88,200.23 L931.1,200.28 L933.33,200.34 L935.55,200.39 L937.77,200.45 L940,200.5 L940,203.7 L937.77,203.59 L935.55,203.48 L933.33,203.37 L931.1,203.25 L928.88,203.14 L926.65,203.03 L924.42,202.91 L922.2,202.8 L919.98,202.68 L917.75,202.55 L915.52,202.43 L913.3,202.3 L911.08,202.17 L908.85,202.04 L906.62,201.9 L904.4,201.76 L902.17,201.62 L899.95,201.47 L897.73,201.31 L895.5,201.15 L893.27,200.98 L891.05,200.8 L888.83,200.62 L886.6,200.43 L884.38,200.23 L882.15,200.02 L879.92,199.8 L877.7,199.58 L875.48,199.34 L873.25,199.1 L871.02,198.85 L868.8,198.58 L866.58,198.3 L864.35,198.02 L862.12,197.72 L859.9,197.41 L857.67,197.08 L855.45,196.75 L853.23,196.39 L851,195.97Z" fill="#fff"/><path d="M829,207.95 L831.77,208.39 L834.55,208.87 L837.33,209.36 L840.1,209.84 L842.88,210.31 L845.65,210.76 L848.42,211.21 L851.2,211.64 L853.98,212.06 L856.75,212.46 L859.52,212.84 L862.3,213.21 L865.08,213.55 L867.85,213.88 L870.62,214.19 L873.4,214.48 L876.17,214.75 L878.95,215.01 L881.73,215.25 L884.5,215.47 L887.27,215.68 L890.05,215.87 L892.83,216.04 L895.6,216.21 L898.38,216.36 L901.15,216.51 L903.92,216.64 L906.7,216.77 L909.48,216.89 L912.25,217 L915.02,217.11 L917.8,217.21 L920.58,217.32 L923.35,217.41 L926.12,217.51 L928.9,217.61 L931.67,217.71 L934.45,217.8 L937.23,217.9 L940,218 L940,221.8 L937.23,221.63 L934.45,221.47 L931.67,221.3 L928.9,221.14 L926.12,220.97 L923.35,220.81 L920.58,220.64 L917.8,220.46 L915.02,220.29 L912.25,220.11 L909.48,219.92 L906.7,219.73 L903.92,219.53 L901.15,219.32 L898.38,219.1 L895.6,218.87 L892.83,218.62 L890.05,218.37 L887.27,218.1 L884.5,217.81 L881.73,217.5 L878.95,217.18 L876.17,216.84 L873.4,216.48 L870.62,216.1 L867.85,215.7 L865.08,215.28 L862.3,214.84 L859.52,214.38 L856.75,213.9 L853.98,213.4 L851.2,212.87 L848.42,212.33 L845.65,211.77 L842.88,211.19 L840.1,210.59 L837.33,209.98 L834.55,209.34 L831.77,208.68 L829,207.95Z" fill="#fff"/><path d="M816,220.3 L819.1,221.01 L822.2,221.76 L825.3,222.52 L828.4,223.27 L831.5,224.01 L834.6,224.74 L837.7,225.46 L840.8,226.15 L843.9,226.83 L847,227.48 L850.1,228.11 L853.2,228.71 L856.3,229.28 L859.4,229.82 L862.5,230.34 L865.6,230.82 L868.7,231.27 L871.8,231.69 L874.9,232.08 L878,232.44 L881.1,232.77 L884.2,233.07 L887.3,233.36 L890.4,233.61 L893.5,233.85 L896.6,234.07 L899.7,234.27 L902.8,234.45 L905.9,234.62 L909,234.78 L912.1,234.94 L915.2,235.08 L918.3,235.22 L921.4,235.36 L924.5,235.5 L927.6,235.63 L930.7,235.77 L933.8,235.91 L936.9,236.05 L940,236.2 L940,239.8 L936.9,239.59 L933.8,239.38 L930.7,239.18 L927.6,238.98 L924.5,238.78 L921.4,238.57 L918.3,238.37 L915.2,238.16 L912.1,237.95 L909,237.73 L905.9,237.5 L902.8,237.25 L899.7,237 L896.6,236.73 L893.5,236.44 L890.4,236.13 L887.3,235.8 L884.2,235.44 L881.1,235.06 L878,234.65 L874.9,234.21 L871.8,233.75 L868.7,233.25 L865.6,232.71 L862.5,232.15 L859.4,231.55 L856.3,230.92 L853.2,230.26 L850.1,229.57 L847,228.85 L843.9,228.1 L840.8,227.32 L837.7,226.52 L834.6,225.7 L831.5,224.85 L828.4,223.99 L825.3,223.11 L822.2,222.21 L819.1,221.28 L816,220.3Z" fill="#fff"/></g>
<g id="atx"><rect x="18.7" y="299" width="1185.3" height="30.9" fill="#000"/><rect x="18.7" y="305.77" width="1185.3" height="1.25" fill="#fff"/><rect x="18.7" y="314.18" width="1185.3" height="1.25" fill="#fff"/><rect x="18.7" y="322.27" width="1185.3" height="1.25" fill="#fff"/><rect x="895.45" y="295.55" width="6.6" height="37.55" fill="#fff" stroke="#000" stroke-width="1.3"/><rect x="1266" y="298.8" width="27.3" height="14" fill="#fff" stroke="#000" stroke-width="1.4"/><rect x="1266" y="316.6" width="27.3" height="14.2" fill="#fff" stroke="#000" stroke-width="1.4"/><rect x="1203.5" y="295.6" width="62.5" height="38" fill="#fff" stroke="#000" stroke-width="1.5"/><rect x="1233" y="305.2" width="33" height="16" fill="#fff" stroke="#000" stroke-width="1.4"/><rect x="1249.3" y="309" width="30.1" height="9.1" fill="#fff" stroke="#000" stroke-width="1.4"/><rect x="1362" y="304.3" width="9.6" height="13.8" fill="#fff" stroke="#000" stroke-width="1.2"/><rect x="1362.3" y="307.5" width="3.3" height="8.3" fill="#fff" stroke="#000" stroke-width="1.0"/><rect x="1323.3" y="295.6" width="38.7" height="38" fill="#fff" stroke="#000" stroke-width="1.5"/><path d="M1331.9,299.1 L1340.8,299.1 L1340.8,310.5 L1331.9,310.5 L1328.4,307.18 L1328.4,302.43 Z" fill="#000"/><rect x="1344.8" y="299.1" width="12.1" height="11.4" fill="#000"/><rect x="1328.4" y="316.9" width="12.4" height="11.4" fill="#000"/><path d="M1348.3,316.9 L1356.9,316.9 L1356.9,328.3 L1348.3,328.3 L1344.8,324.98 L1344.8,320.22 Z" fill="#000"/></g>
<g id="pcie"><rect x="18.7" y="369.3" width="1185.3" height="47.3" fill="#000"/><rect x="18.7" y="376.27" width="1185.3" height="1.25" fill="#fff"/><rect x="18.7" y="384.38" width="1185.3" height="1.25" fill="#fff"/><rect x="18.7" y="392.48" width="1185.3" height="1.25" fill="#fff"/><rect x="18.7" y="400.77" width="1185.3" height="1.25" fill="#fff"/><rect x="18.7" y="408.88" width="1185.3" height="1.25" fill="#fff"/><rect x="430.75" y="367.25" width="7" height="51.7" fill="#fff" stroke="#000" stroke-width="1.3"/><rect x="1266" y="368.2" width="27.3" height="13.8" fill="#fff" stroke="#000" stroke-width="1.4"/><rect x="1266" y="386.2" width="27.3" height="13.6" fill="#fff" stroke="#000" stroke-width="1.4"/><rect x="1266" y="403.8" width="27.3" height="14.1" fill="#fff" stroke="#000" stroke-width="1.4"/><rect x="1203.5" y="365" width="62.5" height="56.1" fill="#fff" stroke="#000" stroke-width="1.5"/><rect x="1232.7" y="385.9" width="33.3" height="13.8" fill="#fff" stroke="#000" stroke-width="1.4"/><rect x="1234" y="388.8" width="37.4" height="7.8" fill="#fff" stroke="#000" stroke-width="1.4"/><rect x="1361.8" y="388.4" width="2.1" height="9.1" fill="#fff" stroke="#000" stroke-width="1.0"/><rect x="1325.6" y="365" width="36.2" height="56.1" fill="#fff" stroke="#000" stroke-width="1.5"/><rect x="1330.3" y="370.6" width="11.1" height="10.9" fill="#000"/><path d="M1349.2,370.6 L1356.9,370.6 L1356.9,381.5 L1349.2,381.5 L1345.9,378.37 L1345.9,373.74 Z" fill="#000"/><path d="M1333.6,388.1 L1341.4,388.1 L1341.4,398.9 L1333.6,398.9 L1330.3,395.76 L1330.3,391.24 Z" fill="#000"/><path d="M1349.2,388.1 L1356.9,388.1 L1356.9,398.9 L1349.2,398.9 L1345.9,395.76 L1345.9,391.24 Z" fill="#000"/><path d="M1333.6,406.2 L1341.4,406.2 L1341.4,417.3 L1333.6,417.3 L1330.3,414.17 L1330.3,409.33 Z" fill="#000"/><rect x="1345.9" y="406.2" width="11" height="11.1" fill="#000"/></g>
<g id="sata"><rect x="18.7" y="511.7" width="789.3" height="39.7" fill="#000"/><rect x="18.7" y="518.77" width="789.3" height="1.25" fill="#fff"/><rect x="18.7" y="526.88" width="789.3" height="1.25" fill="#fff"/><rect x="18.7" y="535.08" width="789.3" height="1.25" fill="#fff"/><rect x="18.7" y="543.17" width="789.3" height="1.25" fill="#fff"/><path d="M808,636.1 L651,636.1 A85.6,60.45 0 0 1 565.4,575.65 A85.6,60.45 0 0 1 651,515.2 L655,515.2" fill="none" stroke="#000" stroke-width="7.0"/><path d="M808,628.15 L651,628.15 A75.2,52.5 0 0 1 575.8,575.65 A75.2,52.5 0 0 1 651,523.15 L655,523.15" fill="none" stroke="#000" stroke-width="7.0"/><path d="M808,620 L651,620 A63.6,44.35 0 0 1 587.4,575.65 A63.6,44.35 0 0 1 651,531.3 L655,531.3" fill="none" stroke="#000" stroke-width="7.0"/><path d="M808,611.8 L651,611.8 A51.7,36.17 0 0 1 599.3,575.62 A51.7,36.17 0 0 1 651,539.45 L655,539.45" fill="none" stroke="#000" stroke-width="7.0"/><path d="M808,603.6 L651,603.6 A41.2,28 0 0 1 609.8,575.6 A41.2,28 0 0 1 651,547.6 L655,547.6" fill="none" stroke="#000" stroke-width="7.0"/><path d="M808,724.7 L651,724.7 A85.6,60.55 0 0 1 565.4,664.15 A85.6,60.55 0 0 1 651,603.6 L655,603.6" fill="none" stroke="#000" stroke-width="7.0"/><path d="M808,716.75 L651,716.75 A75.2,52.48 0 0 1 575.8,664.27 A75.2,52.48 0 0 1 651,611.8 L655,611.8" fill="none" stroke="#000" stroke-width="7.0"/><path d="M808,708.95 L651,708.95 A63.6,44.48 0 0 1 587.4,664.48 A63.6,44.48 0 0 1 651,620 L655,620" fill="none" stroke="#000" stroke-width="7.0"/><path d="M808,700.85 L651,700.85 A51.7,36.35 0 0 1 599.3,664.5 A51.7,36.35 0 0 1 651,628.15 L655,628.15" fill="none" stroke="#000" stroke-width="7.0"/><path d="M808,692.7 L651,692.7 A41.2,28.3 0 0 1 609.8,664.4 A41.2,28.3 0 0 1 651,636.1 L655,636.1" fill="none" stroke="#000" stroke-width="7.0"/><rect x="625" y="512.5" width="16" height="38" fill="#000"/><rect x="631" y="601" width="16" height="37.6" fill="#000"/><rect x="647" y="607.08" width="161" height="1.25" fill="#fff"/><rect x="647" y="615.27" width="161" height="1.25" fill="#fff"/><rect x="647" y="623.48" width="161" height="1.25" fill="#fff"/><rect x="647" y="631.58" width="161" height="1.25" fill="#fff"/><rect x="654" y="696.08" width="154" height="1.25" fill="#fff"/><rect x="654" y="704.38" width="154" height="1.25" fill="#fff"/><rect x="654" y="712.27" width="154" height="1.25" fill="#fff"/><rect x="654" y="719.98" width="154" height="1.25" fill="#fff"/><rect x="430.75" y="508.65" width="6.8" height="44.7" fill="#fff" stroke="#000" stroke-width="1.3"/></g>
<g id="molex"><rect x="18.7" y="791.4" width="789.3" height="31.65" fill="#000"/><rect x="18.7" y="798.58" width="789.3" height="1.25" fill="#fff"/><rect x="18.7" y="806.77" width="789.3" height="1.25" fill="#fff"/><rect x="18.7" y="814.77" width="789.3" height="1.25" fill="#fff"/><path d="M808,899.6 L651,899.6 A75.3,52.3 0 0 1 575.7,847.3 A75.3,52.3 0 0 1 651,795 L655,795" fill="none" stroke="#000" stroke-width="7.0"/><path d="M808,891.55 L651,891.55 A63.7,44.12 0 0 1 587.3,847.42 A63.7,44.12 0 0 1 651,803.3 L655,803.3" fill="none" stroke="#000" stroke-width="7.0"/><path d="M808,883.45 L651,883.45 A51.5,36.03 0 0 1 599.5,847.42 A51.5,36.03 0 0 1 651,811.4 L655,811.4" fill="none" stroke="#000" stroke-width="7.0"/><path d="M808,875.25 L651,875.25 A41,27.88 0 0 1 610,847.38 A41,27.88 0 0 1 651,819.5 L655,819.5" fill="none" stroke="#000" stroke-width="7.0"/><path d="M808,975.2 L651,975.2 A75.3,49.98 0 0 1 575.7,925.23 A75.3,49.98 0 0 1 651,875.25 L655,875.25" fill="none" stroke="#000" stroke-width="5.5"/><path d="M808,968.65 L651,968.65 A63.7,42.6 0 0 1 587.3,926.05 A63.7,42.6 0 0 1 651,883.45 L655,883.45" fill="none" stroke="#000" stroke-width="5.5"/><path d="M808,962.1 L651,962.1 A51.5,35.28 0 0 1 599.5,926.83 A51.5,35.28 0 0 1 651,891.55 L655,891.55" fill="none" stroke="#000" stroke-width="5.5"/><path d="M808,955.5 L651,955.5 A41,27.95 0 0 1 610,927.55 A41,27.95 0 0 1 651,899.6 L655,899.6" fill="none" stroke="#000" stroke-width="5.5"/><rect x="623" y="792.3" width="19" height="30" fill="#000"/><rect x="633" y="872.6" width="12" height="29.6" fill="#000"/><rect x="645" y="878.77" width="163" height="1.25" fill="#fff"/><rect x="645" y="886.88" width="163" height="1.25" fill="#fff"/><rect x="645" y="894.98" width="163" height="1.25" fill="#fff"/><rect x="660" y="958.17" width="148" height="1.45" fill="#fff"/><rect x="660" y="964.57" width="148" height="1.45" fill="#fff"/><rect x="660" y="971.27" width="148" height="1.45" fill="#fff"/><rect x="430.75" y="787.85" width="6.8" height="37.3" fill="#fff" stroke="#000" stroke-width="1.3"/></g>
<g id="guides"><line x1="18.7" y1="24.55" x2="18.7" y2="1053.5" stroke="#000" stroke-width="1.7" stroke-linecap="round" stroke-dasharray="1.5 8.375"/><line x1="808.6" y1="24.55" x2="808.6" y2="1053.5" stroke="#000" stroke-width="1.7" stroke-linecap="round" stroke-dasharray="1.5 8.375"/><line x1="1203.5" y1="24.55" x2="1203.5" y2="1053.5" stroke="#000" stroke-width="1.7" stroke-linecap="round" stroke-dasharray="1.5 8.375"/></g>
<g id="mpc-conn"><rect x="1001.4" y="39.9" width="27.9" height="14.25" fill="#fff" stroke="#000" stroke-width="1.5"/><rect x="1001.4" y="58.6" width="27.9" height="14.25" fill="#fff" stroke="#000" stroke-width="1.5"/><rect x="1001.4" y="76.6" width="27.9" height="14.25" fill="#fff" stroke="#000" stroke-width="1.5"/><rect x="1001.4" y="95.3" width="27.9" height="14.25" fill="#fff" stroke="#000" stroke-width="1.5"/><rect x="1001.4" y="113.5" width="27.9" height="14.25" fill="#fff" stroke="#000" stroke-width="1.5"/><rect x="1001.4" y="131.3" width="27.9" height="14.25" fill="#fff" stroke="#000" stroke-width="1.5"/><rect x="1001.4" y="149.8" width="27.9" height="14.25" fill="#fff" stroke="#000" stroke-width="1.5"/><rect x="1001.4" y="167.6" width="27.9" height="14.25" fill="#fff" stroke="#000" stroke-width="1.5"/><rect x="1001.4" y="186.4" width="27.9" height="14.25" fill="#fff" stroke="#000" stroke-width="1.5"/><rect x="1001.4" y="204.3" width="27.9" height="14.25" fill="#fff" stroke="#000" stroke-width="1.5"/><rect x="1001.4" y="222.6" width="27.9" height="14.25" fill="#fff" stroke="#000" stroke-width="1.5"/><rect x="1001.4" y="240.5" width="27.9" height="14.25" fill="#fff" stroke="#000" stroke-width="1.5"/><rect x="939.4" y="38.8" width="62" height="219.2" fill="#fff" stroke="#000" stroke-width="1.5"/><line x1="939.4" y1="220.3" x2="1001.4" y2="220.3" stroke="#000" stroke-width="1.4"/><rect x="980.3" y="139.6" width="17.2" height="16.7" fill="#fff" stroke="#000" stroke-width="1.3"/><rect x="980.3" y="141.5" width="29.6" height="12.8" fill="#fff" stroke="#000" stroke-width="1.5"/><rect x="960.8" y="133.5" width="19.5" height="28.5" fill="#fff" stroke="#000" stroke-width="1.6"/><rect x="1066" y="39" width="47" height="219" fill="#fff" stroke="#000" stroke-width="1.6"/><rect x="1065.2" y="38.3" width="3.1" height="220.4" fill="#222"/><rect x="1110.4" y="38.3" width="3.1" height="87" fill="#3a3a3a"/><rect x="1110.4" y="171.5" width="3.1" height="87.2" fill="#3a3a3a"/><rect x="1065.2" y="38.2" width="48.3" height="1.9" fill="#000"/><rect x="1065.2" y="256.9" width="48.3" height="1.9" fill="#000"/><line x1="1065.2" y1="220.3" x2="1113.5" y2="220.3" stroke="#000" stroke-width="1.4"/><rect x="1073.9" y="42.8" width="14.2" height="13.9" fill="#000"/><path d="M1095.7,42.8 L1105.2,42.8 L1105.2,56.7 L1095.7,56.7 L1090.9,52.14 L1090.9,47.36 Z" fill="#000"/><path d="M1078.7,60.78 L1088.1,60.78 L1088.1,74.68 L1078.7,74.68 L1073.9,70.12 L1073.9,65.34 Z" fill="#000"/><rect x="1090.9" y="60.78" width="14.3" height="13.9" fill="#000"/><path d="M1078.7,78.76 L1088.1,78.76 L1088.1,92.66 L1078.7,92.66 L1073.9,88.1 L1073.9,83.32 Z" fill="#000"/><rect x="1090.9" y="78.76" width="14.3" height="13.9" fill="#000"/><rect x="1073.9" y="96.74" width="14.2" height="13.9" fill="#000"/><path d="M1095.7,96.74 L1105.2,96.74 L1105.2,110.64 L1095.7,110.64 L1090.9,106.08 L1090.9,101.3 Z" fill="#000"/><rect x="1073.9" y="114.72" width="14.2" height="13.9" fill="#000"/><path d="M1095.7,114.72 L1105.2,114.72 L1105.2,128.62 L1095.7,128.62 L1090.9,124.06 L1090.9,119.28 Z" fill="#000"/><path d="M1078.7,132.7 L1088.1,132.7 L1088.1,146.6 L1078.7,146.6 L1073.9,142.04 L1073.9,137.26 Z" fill="#000"/><rect x="1090.9" y="132.7" width="14.3" height="13.9" fill="#000"/><path d="M1078.7,150.68 L1088.1,150.68 L1088.1,164.58 L1078.7,164.58 L1073.9,160.02 L1073.9,155.24 Z" fill="#000"/><rect x="1090.9" y="150.68" width="14.3" height="13.9" fill="#000"/><rect x="1073.9" y="168.66" width="14.2" height="13.9" fill="#000"/><path d="M1095.7,168.66 L1105.2,168.66 L1105.2,182.56 L1095.7,182.56 L1090.9,178 L1090.9,173.22 Z" fill="#000"/><rect x="1073.9" y="186.64" width="14.2" height="13.9" fill="#000"/><path d="M1095.7,186.64 L1105.2,186.64 L1105.2,200.54 L1095.7,200.54 L1090.9,195.98 L1090.9,191.2 Z" fill="#000"/><path d="M1078.7,204.62 L1088.1,204.62 L1088.1,218.52 L1078.7,218.52 L1073.9,213.96 L1073.9,209.18 Z" fill="#000"/><rect x="1090.9" y="204.62" width="14.3" height="13.9" fill="#000"/><rect x="1073.9" y="222.6" width="14.2" height="13.9" fill="#000"/><path d="M1095.7,222.6 L1105.2,222.6 L1105.2,236.5 L1095.7,236.5 L1090.9,231.94 L1090.9,227.16 Z" fill="#000"/><path d="M1078.7,240.58 L1088.1,240.58 L1088.1,254.48 L1078.7,254.48 L1073.9,249.92 L1073.9,245.14 Z" fill="#000"/><rect x="1090.9" y="240.58" width="14.3" height="13.9" fill="#000"/><rect x="1112.2" y="133.4" width="14.4" height="29.3" fill="#fff" stroke="#000" stroke-width="1.3"/><rect x="1112.2" y="140.1" width="7.2" height="16.5" fill="#fff" stroke="#000" stroke-width="1.3"/><rect x="1120.6" y="141.8" width="9.9" height="13.1" fill="#fff" stroke="#000" stroke-width="1.3"/></g>
<g id="sata-conn">
<rect x="841.8" y="553.3" width="16.9" height="4.2" fill="#fff" stroke="#000" stroke-width="1.4"/><rect x="841.8" y="508.3" width="19.7" height="45" fill="#fff" stroke="#000" stroke-width="1.5"/><line x1="841.8" y1="512.4" x2="861.5" y2="512.4" stroke="#000" stroke-width="1.4"/><rect x="808.5" y="505.4" width="33.3" height="52.5" fill="#fff" stroke="#000" stroke-width="1.5"/>
<path d="M884.5,505 L896.6,505 L896.6,553.7 L894.6,553.7 L894.6,557.8 L887.6,557.8 L887.6,553.7 L884.5,553.7 Z" fill="#fff" stroke="#444" stroke-width="1.15"/><path d="M895.8,508.3 L886.8,508.3 L886.8,511.2 L890.1,512.3 L890.1,550.8 L894.8,550.8" fill="none" stroke="#444" stroke-width="1.0"/><line x1="895.9" y1="508.3" x2="895.9" y2="553" stroke="#444" stroke-width="0.9"/><line x1="891.6" y1="512.8" x2="891.6" y2="548.9" stroke="#000" stroke-width="2.4" stroke-dasharray="1.8 1.0"/><rect x="894.3" y="522.2" width="2.0" height="3.3" fill="#333"/><rect x="894.3" y="537.2" width="2.0" height="3.3" fill="#777"/>
<rect x="841.8" y="641.7" width="16.9" height="4.2" fill="#fff" stroke="#000" stroke-width="1.4"/><rect x="841.8" y="596.7" width="19.7" height="45" fill="#fff" stroke="#000" stroke-width="1.5"/><line x1="841.8" y1="600.8" x2="861.5" y2="600.8" stroke="#000" stroke-width="1.4"/><rect x="808.5" y="593.8" width="33.3" height="52.5" fill="#fff" stroke="#000" stroke-width="1.5"/>
<path d="M884.5,593.4 L896.6,593.4 L896.6,642.1 L894.6,642.1 L894.6,646.2 L887.6,646.2 L887.6,642.1 L884.5,642.1 Z" fill="#fff" stroke="#444" stroke-width="1.15"/><path d="M895.8,596.7 L886.8,596.7 L886.8,599.6 L890.1,600.7 L890.1,639.2 L894.8,639.2" fill="none" stroke="#444" stroke-width="1.0"/><line x1="895.9" y1="596.7" x2="895.9" y2="641.4" stroke="#444" stroke-width="0.9"/><line x1="891.6" y1="601.2" x2="891.6" y2="637.3" stroke="#000" stroke-width="2.4" stroke-dasharray="1.8 1.0"/><rect x="894.3" y="610.6" width="2.0" height="3.3" fill="#333"/><rect x="894.3" y="625.6" width="2.0" height="3.3" fill="#777"/>
<rect x="841.8" y="730.1" width="16.9" height="4.2" fill="#fff" stroke="#000" stroke-width="1.4"/><rect x="841.8" y="685.1" width="19.7" height="45" fill="#fff" stroke="#000" stroke-width="1.5"/><line x1="841.8" y1="689.2" x2="861.5" y2="689.2" stroke="#000" stroke-width="1.4"/><rect x="808.5" y="682.2" width="33.3" height="52.5" fill="#fff" stroke="#000" stroke-width="1.5"/>
<path d="M884.5,681.8 L896.6,681.8 L896.6,730.5 L894.6,730.5 L894.6,734.6 L887.6,734.6 L887.6,730.5 L884.5,730.5 Z" fill="#fff" stroke="#444" stroke-width="1.15"/><path d="M895.8,685.1 L886.8,685.1 L886.8,688 L890.1,689.1 L890.1,727.6 L894.8,727.6" fill="none" stroke="#444" stroke-width="1.0"/><line x1="895.9" y1="685.1" x2="895.9" y2="729.8" stroke="#444" stroke-width="0.9"/><line x1="891.6" y1="689.6" x2="891.6" y2="725.7" stroke="#000" stroke-width="2.4" stroke-dasharray="1.8 1.0"/><rect x="894.3" y="699" width="2.0" height="3.3" fill="#333"/><rect x="894.3" y="714" width="2.0" height="3.3" fill="#777"/>
</g>
<g id="molex-conn">
<rect x="841.8" y="781.6" width="19.7" height="49.2" fill="#fff" stroke="#000" stroke-width="1.5"/><line x1="841.8" y1="785.6" x2="861.5" y2="785.6" stroke="#000" stroke-width="1.4"/><line x1="841.8" y1="826.6" x2="861.5" y2="826.6" stroke="#000" stroke-width="1.4"/><rect x="808.5" y="780" width="33.3" height="52.6" fill="#fff" stroke="#000" stroke-width="1.5"/>
<rect x="898.3" y="814.5" width="3.4" height="3.8" fill="#fff" stroke="#555" stroke-width="1"/><path d="M888.9,780 L898.5,780 L898.5,832.8 L888.9,832.8 L885.4,829.3 L885.4,783.5 Z" fill="#fff" stroke="#555" stroke-width="1.2"/><line x1="886.4" y1="784" x2="886.4" y2="828.8" stroke="#999" stroke-width="1"/><circle cx="891.9" cy="788.8" r="4.7" fill="#fff" stroke="#555" stroke-width="0.85"/><circle cx="891.9" cy="800.47" r="4.7" fill="#fff" stroke="#555" stroke-width="0.85"/><circle cx="891.9" cy="812.14" r="4.7" fill="#fff" stroke="#555" stroke-width="0.85"/><circle cx="891.9" cy="823.81" r="4.7" fill="#fff" stroke="#555" stroke-width="0.85"/><circle cx="891.9" cy="788.8" r="3.1" fill="#000"/><circle cx="891.9" cy="800.47" r="3.1" fill="#000"/><circle cx="891.9" cy="812.14" r="3.1" fill="#000"/><circle cx="891.9" cy="823.81" r="3.1" fill="#000"/>
<rect x="841.8" y="863.3" width="19.7" height="49.2" fill="#fff" stroke="#000" stroke-width="1.5"/><line x1="841.8" y1="867.3" x2="861.5" y2="867.3" stroke="#000" stroke-width="1.4"/><line x1="841.8" y1="908.3" x2="861.5" y2="908.3" stroke="#000" stroke-width="1.4"/><rect x="808.5" y="861.7" width="33.3" height="52.6" fill="#fff" stroke="#000" stroke-width="1.5"/>
<rect x="898.3" y="896.2" width="3.4" height="3.8" fill="#fff" stroke="#555" stroke-width="1"/><path d="M888.9,861.7 L898.5,861.7 L898.5,914.5 L888.9,914.5 L885.4,911 L885.4,865.2 Z" fill="#fff" stroke="#555" stroke-width="1.2"/><line x1="886.4" y1="865.7" x2="886.4" y2="910.5" stroke="#999" stroke-width="1"/><circle cx="891.9" cy="870.5" r="4.7" fill="#fff" stroke="#555" stroke-width="0.85"/><circle cx="891.9" cy="882.17" r="4.7" fill="#fff" stroke="#555" stroke-width="0.85"/><circle cx="891.9" cy="893.84" r="4.7" fill="#fff" stroke="#555" stroke-width="0.85"/><circle cx="891.9" cy="905.51" r="4.7" fill="#fff" stroke="#555" stroke-width="0.85"/><circle cx="891.9" cy="870.5" r="3.1" fill="#000"/><circle cx="891.9" cy="882.17" r="3.1" fill="#000"/><circle cx="891.9" cy="893.84" r="3.1" fill="#000"/><circle cx="891.9" cy="905.51" r="3.1" fill="#000"/>
<rect x="808.5" y="952.8" width="25.8" height="24.8" fill="#fff" stroke="#000" stroke-width="1.6"/><line x1="808.7" y1="955.3" x2="833" y2="955.3" stroke="#000" stroke-width="1.0"/><line x1="808.7" y1="975.3" x2="833" y2="975.3" stroke="#000" stroke-width="1.0"/><line x1="832.9" y1="953" x2="832.9" y2="977.5" stroke="#000" stroke-width="1.0"/>
<path d="M885.3,954 L893,954 L895,952.6 L898.7,952.6 L898.7,977.8 L895,977.8 L893,976.5 L885.3,976.5 Z" fill="#fff" stroke="#555" stroke-width="1.1"/><path d="M889.4,955 L889.4,975.5 M895.2,954 L895.2,976.5" fill="none" stroke="#555" stroke-width="1"/><path d="M887.3,957 L887.3,961 M887.3,963.5 L887.3,967.5 M885.5,968.5 L889,968.5 M885.5,972.5 L889,972.5 M895.5,963.5 L898.5,963.5 M895.5,967.5 L898.5,967.5" fill="none" stroke="#555" stroke-width="0.9"/><circle cx="892.1" cy="958.1" r="1.35" fill="#000"/><circle cx="892.1" cy="962.9" r="1.35" fill="#000"/><circle cx="892.1" cy="967.8" r="1.35" fill="#000"/><circle cx="892.1" cy="972.4" r="1.35" fill="#000"/>
</g>
<g id="uarrows">
<path d="M795,559.1 L653,559.1 A23.0,16.65 0 0 0 653,592.4 L795,592.4" fill="none" stroke="#222" stroke-width="0.8"/><path d="M807.9,559.1 L791.4,551.5 Q795.4,559.1 791.4,566.7 Z" fill="#000"/><path d="M807.9,592.4 L791.4,584.8 Q795.4,592.4 791.4,600 Z" fill="#000"/>
<path d="M795,647.8 L653,647.8 A23.0,16.65 0 0 0 653,681.1 L795,681.1" fill="none" stroke="#222" stroke-width="0.8"/><path d="M807.9,647.8 L791.4,640.2 Q795.4,647.8 791.4,655.4 Z" fill="#000"/><path d="M807.9,681.1 L791.4,673.5 Q795.4,681.1 791.4,688.7 Z" fill="#000"/>
<path d="M795,831.9 L653,831.9 A23.0,16.6 0 0 0 653,865.1 L795,865.1" fill="none" stroke="#222" stroke-width="0.8"/><path d="M807.9,831.9 L791.4,824.3 Q795.4,831.9 791.4,839.5 Z" fill="#000"/><path d="M807.9,865.1 L791.4,857.5 Q795.4,865.1 791.4,872.7 Z" fill="#000"/>
<path d="M795,912.3 L653,912.3 A23.0,16.55 0 0 0 653,945.4 L795,945.4" fill="none" stroke="#222" stroke-width="0.8"/><path d="M807.9,912.3 L791.4,904.7 Q795.4,912.3 791.4,919.9 Z" fill="#000"/><path d="M807.9,945.4 L791.4,937.8 Q795.4,945.4 791.4,953 Z" fill="#000"/>
</g>
<g id="dims">
<line x1="30" y1="1034.9" x2="797" y2="1034.9" stroke="#111" stroke-width="1.8"/>
<line x1="820" y1="1034.9" x2="1192" y2="1034.9" stroke="#111" stroke-width="1.8"/>
<path d="M19.6,1034.9 L36.3,1027.9 Q32.1,1034.9 36.3,1041.9 Z" fill="#000"/>
<path d="M807.9,1034.9 L791.2,1027.9 Q795.4,1034.9 791.2,1041.9 Z" fill="#000"/>
<path d="M809.6,1034.9 L826.3,1027.9 Q822.1,1034.9 826.3,1041.9 Z" fill="#000"/>
<path d="M1203,1034.9 L1186.3,1027.9 Q1190.5,1034.9 1186.3,1041.9 Z" fill="#000"/>
</g>
<g id="labels">
<rect x="1162" y="137" width="150" height="25" fill="#fff"/>
<text transform="translate(1164.6,156) scale(1,1.025)" x="0" y="0" font-size="22.9" text-anchor="start">MPC 20+4 pin</text>
<text transform="translate(1391.8,320.1) scale(1,1.025)" x="0" y="0" font-size="22.9" text-anchor="start">ATX12V 4 pin</text>
<text transform="translate(1390.2,402.6) scale(1,1.025)" x="0" y="0" font-size="22.9" text-anchor="start">PCI-E 6 pin</text>
<text transform="translate(920.6,538.7) scale(1,1.025)" x="0" y="0" font-size="22.9" text-anchor="start">SATA</text>
<text transform="translate(920.6,629.4) scale(1,1.025)" x="0" y="0" font-size="22.9" text-anchor="start">SATA</text>
<text transform="translate(920.6,716) scale(1,1.025)" x="0" y="0" font-size="22.9" text-anchor="start">SATA</text>
<text transform="translate(920.3,814.8) scale(1,1.025)" x="0" y="0" font-size="22.9" text-anchor="start">MOLEX</text>
<text transform="translate(920.3,897.8) scale(1,1.025)" x="0" y="0" font-size="22.9" text-anchor="start">MOLEX</text>
<text transform="translate(919.3,975) scale(1,1.025)" x="0" y="0" font-size="22.9" text-anchor="start">mini-MOLEX</text>
<text transform="translate(721.3,584) scale(1,1.025)" x="0" y="0" font-size="22.75" text-anchor="middle">150mm</text>
<text transform="translate(721.3,672.95) scale(1,1.025)" x="0" y="0" font-size="22.75" text-anchor="middle">150mm</text>
<text transform="translate(721.3,857) scale(1,1.025)" x="0" y="0" font-size="22.75" text-anchor="middle">150mm</text>
<text transform="translate(721.3,937.3) scale(1,1.025)" x="0" y="0" font-size="22.75" text-anchor="middle">150mm</text>
<text transform="translate(414.3,1031.2) scale(1,1.025)" x="0" y="0" font-size="22.75" text-anchor="middle">300mm</text>
<text transform="translate(1017.1,1031.4) scale(1,1.025)" x="0" y="0" font-size="22.75" text-anchor="middle">150mm</text>
</g>
</svg></body></html>
